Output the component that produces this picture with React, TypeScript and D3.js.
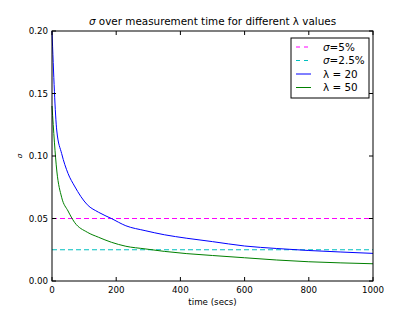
import React, { useRef, useEffect } from 'react';
import * as d3 from 'd3';

// measurement times (secs)
const times = [0, 15, 30, 50, 70, 110, 145, 185, 230, 290, 350, 420, 500, 600, 700, 800, 900, 1000];
const lambda20 = [0.2, 0.12, 0.102, 0.086, 0.076, 0.061, 0.055, 0.05, 0.0442, 0.0403, 0.037, 0.0342, 0.0315, 0.028, 0.026, 0.0244, 0.0232, 0.0221];
const lambda50 = [0.14, 0.088, 0.067, 0.056, 0.047, 0.039, 0.035, 0.031, 0.0278, 0.0257, 0.0237, 0.0219, 0.0204, 0.0186, 0.0168, 0.0154, 0.0145, 0.0138];
const thresholds = [0.05, 0.025];
const xTicks = [0, 200, 400, 600, 800, 1000];
const yTicks = [0, 0.05, 0.1, 0.15, 0.2];
// [symbol, rest, italic symbol?]
const legendLabels: [string, string, boolean][] = [
  ['σ', '=5%', true],
  ['σ', '=2.5%', true],
  ['λ', ' = 20', false],
  ['λ', ' = 50', false],
];

const App = () => {
  const svgRef = useRef<SVGSVGElement>(null);

  useEffect(() => {
    const W = 415, H = 312;
    const margin = { top: 31, right: 42, bottom: 31, left: 52 };
    const width = W - margin.left - margin.right;
    const height = H - margin.top - margin.bottom;
    const font = 'DejaVu Sans, sans-serif';

    const root = d3.select(svgRef.current);
    root.selectAll('*').remove();
    root.attr('width', W).attr('height', H);
    root.append('rect').attr('width', W).attr('height', H).attr('fill', '#fff');

    const svg = root.append('g').attr('transform', `translate(${margin.left},${margin.top})`);

    const x = d3.scaleLinear().domain([0, 1000]).range([0, width]);
    const y = d3.scaleLinear().domain([0, 0.2]).range([height, 0]);

    // threshold lines
    const thrColors = ['#ff00ff', '#00bfbf'];
    thresholds.forEach((v, i) => {
      svg.append('line')
        .attr('x1', 0).attr('x2', width)
        .attr('y1', y(v)).attr('y2', y(v))
        .attr('stroke', thrColors[i])
        .attr('stroke-width', 1)
        .attr('stroke-dasharray', '5,3');
    });

    const line = d3.line<number>()
      .x((d, i) => x(times[i]))
      .y(d => y(d))
      .curve(d3.curveMonotoneX);

    svg.append('path').datum(lambda20)
      .attr('d', line).attr('fill', 'none').attr('stroke', '#0000ff').attr('stroke-width', 1);
    svg.append('path').datum(lambda50)
      .attr('d', line).attr('fill', 'none').attr('stroke', '#008000').attr('stroke-width', 1);

    // frame
    svg.append('rect').attr('width', width).attr('height', height)
      .attr('fill', 'none').attr('stroke', '#000').attr('stroke-width', 1);

    // ticks inward on all sides
    const tl = 4;
    xTicks.forEach(t => {
      svg.append('line').attr('x1', x(t)).attr('x2', x(t)).attr('y1', height).attr('y2', height - tl).attr('stroke', '#000');
      svg.append('line').attr('x1', x(t)).attr('x2', x(t)).attr('y1', 0).attr('y2', tl).attr('stroke', '#000');
      svg.append('text').attr('x', x(t)).attr('y', height + 12)
        .attr('text-anchor', 'middle').attr('font-family', font).attr('font-size', 8.7)
        .text(String(t));
    });
    yTicks.forEach(t => {
      svg.append('line').attr('x1', 0).attr('x2', tl).attr('y1', y(t)).attr('y2', y(t)).attr('stroke', '#000');
      svg.append('line').attr('x1', width).attr('x2', width - tl).attr('y1', y(t)).attr('y2', y(t)).attr('stroke', '#000');
      svg.append('text').attr('x', -4).attr('y', y(t)).attr('dy', '0.35em')
        .attr('text-anchor', 'end').attr('font-family', font).attr('font-size', 8.7)
        .text(t.toFixed(2));
    });

    // labels
    const title = svg.append('text').attr('x', width / 2).attr('y', -6)
      .attr('text-anchor', 'middle').attr('font-family', font).attr('font-size', 10.4);
    title.append('tspan').attr('font-style', 'italic').text('σ');
    title.append('tspan').text(' over measurement time for different λ values');

    svg.append('text').attr('x', width / 2).attr('y', height + 24)
      .attr('text-anchor', 'middle').attr('font-family', font).attr('font-size', 8.7)
      .text('time (secs)');
    svg.append('text')
      .attr('transform', `translate(${-30},${height / 2}) rotate(-90)`)
      .attr('text-anchor', 'middle').attr('font-family', font).attr('font-size', 7)
      .attr('font-style', 'italic')
      .text('σ');

    // legend
    const lg = svg.append('g').attr('transform', `translate(${width - 82},7)`);
    lg.append('rect').attr('width', 78).attr('height', 60)
      .attr('fill', '#fff').attr('stroke', '#000').attr('stroke-width', 1);
    const lgColors = ['#ff00ff', '#00bfbf', '#0000ff', '#008000'];
    const lgDash = ['4,4', '4,4', null, null];
    legendLabels.forEach(([sym, rest, ital], i) => {
      const cy = 9 + i * 13.5;
      lg.append('line').attr('x1', 5).attr('x2', 20).attr('y1', cy).attr('y2', cy)
        .attr('stroke', lgColors[i]).attr('stroke-width', 1)
        .attr('stroke-dasharray', lgDash[i]);
      const t = lg.append('text').attr('x', 32).attr('y', cy).attr('dy', '0.35em')
        .attr('font-family', font).attr('font-size', 10.4);
      t.append('tspan').attr('font-style', ital ? 'italic' : 'normal').text(sym);
      t.append('tspan').text(rest);
    });
  }, []);

  return <svg ref={svgRef} style={{ position: 'absolute', left: 0, top: 0 }} />;
};

export default App;
